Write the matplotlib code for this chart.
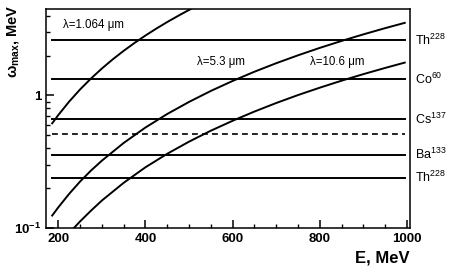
import matplotlib.pyplot as plt
from matplotlib.ticker import MultipleLocator, LogLocator, NullFormatter

plt.rcParams['font.family'] = ['Liberation Sans', 'DejaVu Sans']
plt.rcParams['mathtext.fontset'] = 'custom'
plt.rcParams['mathtext.rm'] = 'Liberation Sans'
plt.rcParams['mathtext.it'] = 'Liberation Sans:italic'
plt.rcParams['mathtext.bf'] = 'Liberation Sans:bold'

# Compton edge curves (E in MeV, omega_max in MeV)
e_1064 = [186, 200, 225, 250, 275, 300, 325, 350, 375, 400, 425, 450, 480, 500, 510]
w_1064 = [0.616, 0.712, 0.900, 1.111, 1.343, 1.598, 1.875, 2.173, 2.494, 2.836,
          3.200, 3.586, 4.078, 4.423, 4.601]

e_53 = [186, 200, 225, 250, 275, 300, 350, 400, 450, 500, 550, 600, 650, 700, 750,
        800, 850, 900, 950, 995]
w_53 = [0.124, 0.143, 0.181, 0.224, 0.271, 0.322, 0.438, 0.573, 0.725, 0.894, 1.082,
        1.287, 1.511, 1.752, 2.010, 2.287, 2.581, 2.893, 3.223, 3.535]

e_106 = [236, 250, 275, 300, 350, 400, 450, 500, 550, 600, 650, 700, 750, 800, 850,
         900, 950, 995]
w_106 = [0.100, 0.112, 0.135, 0.161, 0.219, 0.287, 0.363, 0.448, 0.542, 0.644, 0.756,
         0.877, 1.007, 1.145, 1.293, 1.449, 1.614, 1.771]

# gamma source lines
src_energy = [2.614, 1.33, 0.662, 0.356, 0.239]
src_name = ['Th', 'Co', 'Cs', 'Ba', 'Th']
src_mass = ['228', '60', '137', '133', '228']
annih = 0.511
line_e = [186, 995]

fig = plt.figure(figsize=(4.52, 2.80), dpi=100)
ax = fig.add_axes([0.102, 0.186, 0.805, 0.782])

ax.plot(e_1064, w_1064, 'k-', lw=1.4)
ax.plot(e_53, w_53, 'k-', lw=1.4)
ax.plot(e_106, w_106, 'k-', lw=1.4)

for en, nm, ms in zip(src_energy, src_name, src_mass):
    ax.plot(line_e, [en, en], 'k-', lw=1.4)
    ax.text(1.013, en, nm + r'$^{\mathregular{' + ms + '}}$', transform=ax.get_yaxis_transform(),
            va='center', ha='left', fontsize=9)
ax.plot(line_e, [annih, annih], 'k--', lw=1.2, dashes=(3.5, 2.5))

ax.text(211, 3.39, r'λ=1.064 μm', fontsize=8.3, va='center')
ax.text(519, 1.78, r'λ=5.3 μm', fontsize=8.3, va='center')
ax.text(778, 1.78, r'λ=10.6 μm', fontsize=8.3, va='center')

ax.set_yscale('log')
ax.set_xlim(172, 1007)
ax.set_ylim(0.1, 4.5)

ax.xaxis.set_major_locator(MultipleLocator(200))
ax.xaxis.set_minor_locator(MultipleLocator(50))
ax.set_yticks([0.1, 1])
ax.set_yticklabels([r'$\mathbf{10^{-1}}$', '1'])
ax.yaxis.set_minor_locator(LogLocator(base=10, subs=range(2, 10)))
ax.yaxis.set_minor_formatter(NullFormatter())

ax.tick_params(which='both', direction='in', top=False, right=False)
ax.tick_params(which='major', length=6, width=1.1, labelsize=9.5)
ax.tick_params(which='minor', length=3, width=1.0)
for lab in ax.get_xticklabels() + ax.get_yticklabels():
    lab.set_fontweight('bold')
for sp in ax.spines.values():
    sp.set_linewidth(1.1)

ax.set_xlabel('E, MeV', fontsize=12, fontweight='bold', loc='right')
fig.text(13 / 452, 1 - 5 / 280, r'ω$_{\mathregular{max}}$, MeV', rotation=90,
         fontsize=10.5, fontweight='bold', ha='center', va='top')

fig.savefig('out.png', dpi=100)
